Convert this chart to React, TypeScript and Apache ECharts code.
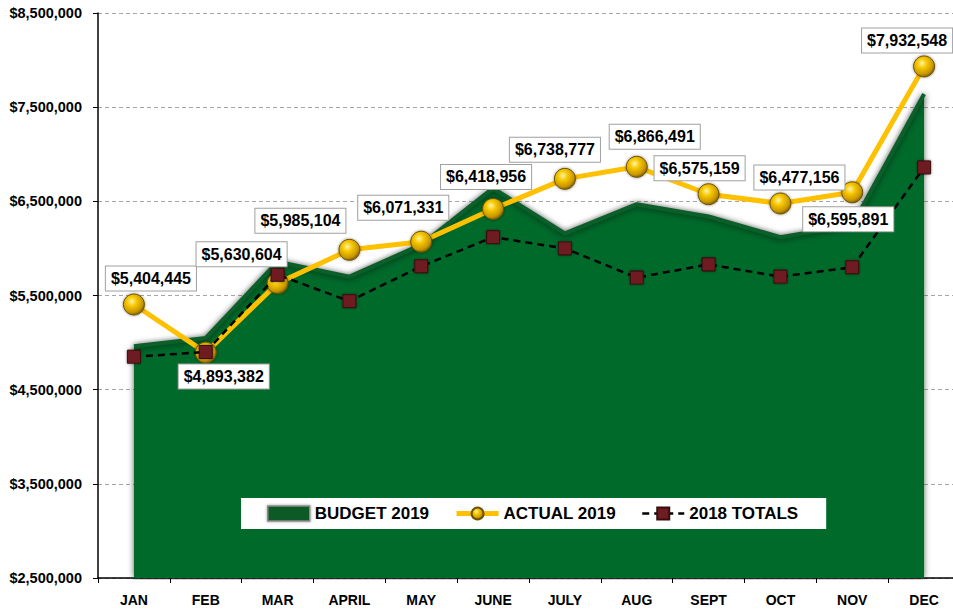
import React, { useEffect, useRef } from "react";
import * as echarts from "echarts";

const categories = ["JAN", "FEB", "MAR", "APRIL", "MAY", "JUNE", "JULY", "AUG", "SEPT", "OCT", "NOV", "DEC"];
const budget2019 = [4960000, 5050000, 5860000, 5700000, 6040000, 6640000, 6160000, 6470000, 6340000, 6120000, 6250000, 7640000];
const actual2019 = [5404445, 4893382, 5630604, 5985104, 6071331, 6418956, 6738777, 6866491, 6575159, 6477156, 6595891, 7932548];
const totals2018 = [4850000, 4900000, 5720000, 5440000, 5810000, 6120000, 6000000, 5690000, 5830000, 5700000, 5800000, 6860000];
const seriesNames = ["BUDGET 2019", "ACTUAL 2019", "2018 TOTALS"];

// label placement (layout only)
const labelOffsets: [number, number][] = [
  [17, -26], [18, 24], [-36, -29], [-49, -29], [-18, -34], [-7, -32],
  [-10, -29], [18, -30], [-9, -26], [19, -26], [-4, 27], [-17, -26],
];

const money = (v: number) => "$" + Math.round(v).toLocaleString("en-US");
const FONT = "Liberation Sans, Arial, sans-serif";

export default function App() {
  const ref = useRef<HTMLDivElement>(null);
  useEffect(() => {
    if (!ref.current) return;
    const chart = echarts.init(ref.current, null, { renderer: "svg" });
    const goldBall = new echarts.graphic.RadialGradient(0.4, 0.35, 0.65, [
      { offset: 0, color: "#fff4a8" },
      { offset: 0.35, color: "#f7c800" },
      { offset: 0.8, color: "#c99700" },
      { offset: 1, color: "#8a6500" },
    ]);
    chart.setOption({
      animation: false,
      backgroundColor: "#ffffff",
      grid: { left: 98, top: 13, width: 862, height: 565, containLabel: false },
      legend: {
        left: 241,
        top: 498,
        padding: [7, 28, 7, 26],
        backgroundColor: "#ffffff",
        itemGap: 25,
        itemWidth: 42,
        itemHeight: 15,
        textStyle: { fontFamily: FONT, fontWeight: "bold", fontSize: 17, color: "#000" },
        data: [
          {
            name: seriesNames[0], icon: "rect",
            itemStyle: { color: "#0b5a28", borderColor: "#8a8a8a", borderWidth: 1.5, shadowColor: "rgba(0,0,0,0.4)", shadowBlur: 3 },
          },
          { name: seriesNames[1], lineStyle: { width: 5, color: "#FFC000" } },
          { name: seriesNames[2], lineStyle: { width: 2.5, color: "#000", type: [7, 5] } },
        ],
      },
      xAxis: {
        type: "category",
        data: categories,
        boundaryGap: true,
        axisLine: { show: true, lineStyle: { color: "#000", width: 1.5 } },
        axisTick: { show: true, alignWithLabel: false, length: 5, lineStyle: { color: "#000" } },
        axisLabel: { fontFamily: FONT, fontWeight: "bold", fontSize: 14, color: "#000", margin: 15 },
        splitLine: { show: false },
      },
      yAxis: {
        type: "value",
        min: 2500000,
        max: 8500000,
        interval: 1000000,
        axisLine: { show: true, lineStyle: { color: "#000", width: 1.5 } },
        axisTick: { show: true, length: 5, lineStyle: { color: "#000" } },
        axisLabel: {
          fontFamily: FONT, fontWeight: "bold", fontSize: 14.5, color: "#000", margin: 16,
          formatter: (v: number) => money(v),
        },
        splitLine: { show: true, lineStyle: { color: "#a6a6a6", type: [4, 3], width: 1 } },
      },
      series: [
        {
          name: seriesNames[0],
          type: "line",
          data: budget2019,
          symbol: "none",
          z: 1,
          lineStyle: {
            color: "#0d5e2a", width: 4,
            shadowColor: "rgba(0,0,0,0.55)", shadowBlur: 6, shadowOffsetY: 1,
          },
          itemStyle: { color: "#0b5a28" },
          areaStyle: {
            color: "#066a2c", opacity: 1,
            shadowColor: "rgba(0,0,0,0.6)", shadowBlur: 6,
          },
        },
        {
          name: seriesNames[1],
          type: "line",
          data: actual2019,
          z: 3,
          symbol: "circle",
          symbolSize: 21,
          showAllSymbol: true,
          lineStyle: { color: "#FFC000", width: 5 },
          itemStyle: {
            color: goldBall, borderColor: "#6b5200", borderWidth: 1,
            shadowColor: "rgba(0,0,0,0.45)", shadowBlur: 3,
          },
        },
        {
          name: seriesNames[2],
          type: "line",
          data: totals2018,
          z: 4,
          symbol: "rect",
          symbolSize: 13,
          showAllSymbol: true,
          lineStyle: { color: "#000", width: 2.5, type: [7, 5] },
          itemStyle: {
            color: "#6e1c20", borderColor: "#3a0c0e", borderWidth: 1,
            shadowColor: "rgba(0,0,0,0.45)", shadowBlur: 3,
          },
        },
        {
          // data labels for ACTUAL 2019, drawn above every line
          name: "actual-labels",
          type: "scatter",
          data: actual2019.map((v, i) => ({ value: v, label: { offset: labelOffsets[i] } })),
          z: 6,
          symbolSize: 0,
          silent: true,
          itemStyle: { opacity: 1, color: "#000" },
          label: {
            show: true,
            position: "inside",
            align: "center",
            verticalAlign: "middle",
            opacity: 1,
            formatter: (p: any) => money(p.value),
            fontFamily: FONT, fontWeight: "bold", fontSize: 16, color: "#000",
            backgroundColor: "#ffffff",
            borderColor: "#a0a0a0", borderWidth: 1,
            padding: [5, 5, 3, 5],
          },
        },
      ],
    });
    return () => chart.dispose();
  }, []);
  return (
    <div style={{ position: "fixed", left: 0, top: 0, width: 953, height: 610, overflow: "hidden", background: "#fff" }}>
      <div ref={ref} style={{ width: 980, height: 610 }} />
    </div>
  );
}
